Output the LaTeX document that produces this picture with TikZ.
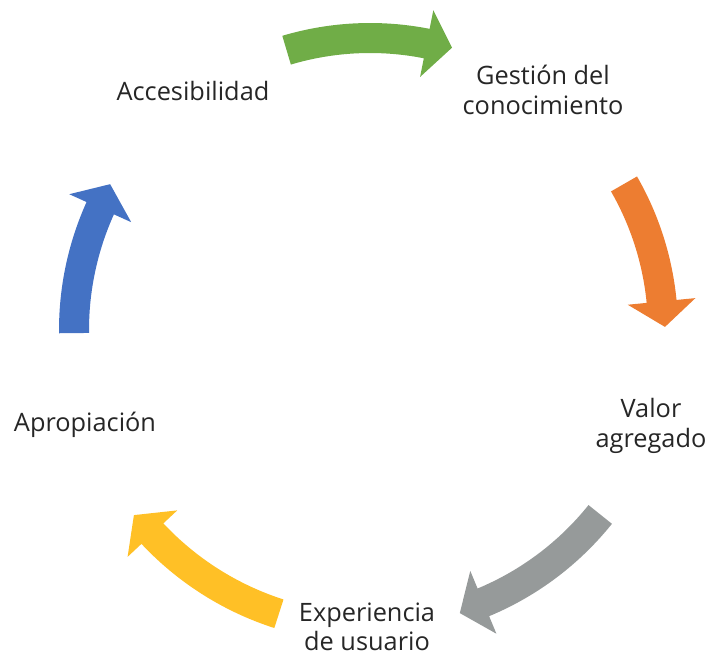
\documentclass[tikz,border=0pt]{standalone}
\usepackage{fontspec}
\setmainfont{Open Sans}
\usepackage{tikz}
\usetikzlibrary{calc}
\usepackage{color}
\definecolor{leafgreen}{RGB}{112, 173, 71}
\definecolor{carrot}{RGB}{237, 125, 49}
\definecolor{ashgray}{RGB}{150, 154, 154}
\definecolor{sunflower}{RGB}{255, 192, 38}
\definecolor{cobalt}{RGB}{68, 114, 196}
\definecolor{inkgray}{RGB}{38, 38, 38}
% curved block arrow: #1 tip angle, #2 tail angle, #3 radius, #4 colour
\newcommand{\cyclearrow}[4]{%
  \fill[#4] ({#2}:{#3+15}) arc[start angle={#2}, end angle={#1+5}, radius={#3+15}]
       -- ({#1+5}:{#3+34}) -- ({#1}:{#3+2}) -- ({#1+5}:{#3-34}) -- ({#1+5}:{#3-15})
       arc[start angle={#1+5}, end angle={#2}, radius={#3-15}] -- cycle;}
\tikzset{steplabel/.style={color=inkgray, align=center, font=\fontsize{19}{22}\selectfont}}

\begin{document}
\begin{tikzpicture}[x=0.75pt, y=0.75pt]
            % Frame to fix the margins
            \useasboundingbox                                       (-370, -327) rectangle (339, 330);
            % Arrows, clockwise from the top
            \cyclearrow{73.8}{106.6}{292}{leafgreen}
            \cyclearrow{0.6}{29.9}{293}{carrot}
            \cyclearrow{-72.4}{-38.7}{295}{ashgray}
            \cyclearrow{-141.9}{-107.8}{298}{sunflower}
            \cyclearrow{150.7}{180.6}{296}{cobalt}
            % Labels
            \node[steplabel] (access)  at (-177,  239) {Accesibilidad};
            \node[steplabel] (gestion) at ( 173,  240) {Gestión del\\conocimiento};
            \node[steplabel] (valor)   at ( 281,  -96) {Valor\\agregado};
            \node[steplabel] (exper)   at (  -3, -297) {Experiencia\\de usuario};
            \node[steplabel] (aprop)   at (-285,  -95) {Apropiación};
        \end{tikzpicture}
\end{document}
